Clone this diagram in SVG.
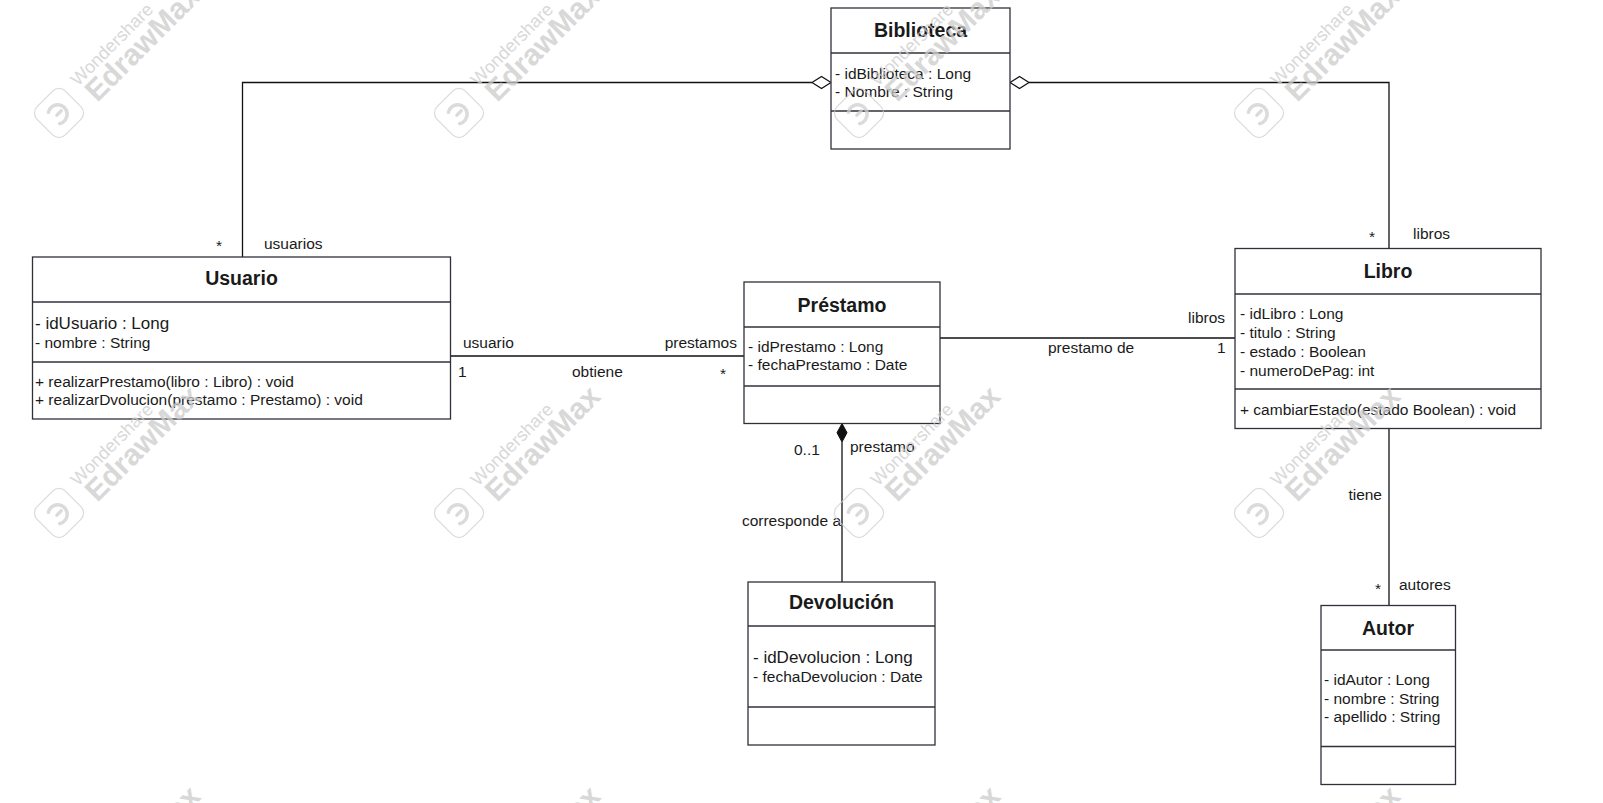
<svg xmlns="http://www.w3.org/2000/svg" xmlns:xlink="http://www.w3.org/1999/xlink" width="1603" height="803" viewBox="0 0 1603 803">
<style>
  text { font-family: "Liberation Sans", Arial, sans-serif; fill: #1a1a1a; }
  .box { fill: #ffffff; stroke: #30303a; stroke-width: 1.3; }
  .sep { stroke: #30303a; stroke-width: 1.3; }
  .title { font-size: 19.5px; font-weight: bold; text-anchor: middle; }
  .attr { font-size: 15.5px; }
  .big { font-size: 17px; }
  .lbl { font-size: 15.5px; }
  .end { text-anchor: end; }
  .mid { text-anchor: middle; }
  .conn { fill: none; stroke: #111111; stroke-width: 1.3; }
  .wmline { fill: none; stroke: #cfcfcf; }
  .wmt { fill: #cccccc; }
</style>
<defs>
  <g id="wm" opacity="0.75">
    <g transform="rotate(-45)">
      <rect class="wmline" x="-20" y="-20" width="40" height="40" rx="9" stroke-width="1.2"/>
      <path class="wmline" d="M -7 -8 A 9.5 9.5 0 1 1 -7 8" stroke-width="3.5" stroke-linecap="round"/>
      <path class="wmline" d="M -3 0 L 3 0" stroke-width="3.5" stroke-linecap="round"/>
      <text class="wmt" x="32" y="-5" font-size="18">Wondershare</text>
      <text class="wmt" x="34" y="20" font-size="30" font-weight="bold">EdrawMax</text>
    </g>
  </g>
</defs>
<rect x="0" y="0" width="1603" height="803" fill="#ffffff"/>

<g id="connectors">
  <polyline class="conn" points="812,82.5 242.5,82.5 242.5,257"/>
  <polygon points="831,82.5 821.5,76.5 812,82.5 821.5,88.5" fill="#ffffff" stroke="#111111" stroke-width="1.2"/>
  <polyline class="conn" points="1029,82.5 1389,82.5 1389,248.5"/>
  <polygon points="1010,82.5 1019.5,76.5 1029,82.5 1019.5,88.5" fill="#ffffff" stroke="#111111" stroke-width="1.2"/>
  <line class="conn" x1="450.5" y1="356" x2="744" y2="356"/>
  <line class="conn" x1="940" y1="338" x2="1235" y2="338"/>
  <line class="conn" x1="842" y1="442" x2="842" y2="582"/>
  <polygon points="842,423.5 847,432.7 842,442 837,432.7" fill="#111111" stroke="#111111" stroke-width="1"/>
  <line class="conn" x1="1389" y1="428.5" x2="1389" y2="605.5"/>

  <text class="lbl mid" x="219" y="251">*</text>
  <text class="lbl" x="264" y="249">usuarios</text>
  <text class="lbl mid" x="1372" y="242">*</text>
  <text class="lbl" x="1413" y="239">libros</text>
  <text class="lbl" x="463" y="348">usuario</text>
  <text class="lbl end" x="737" y="348">prestamos</text>
  <text class="lbl" x="458" y="377">1</text>
  <text class="lbl" x="572" y="377">obtiene</text>
  <text class="lbl mid" x="723" y="379">*</text>
  <text class="lbl" x="1188" y="323">libros</text>
  <text class="lbl" x="1217" y="353">1</text>
  <text class="lbl" x="1048" y="353">prestamo de</text>
  <text class="lbl" x="794" y="455">0..1</text>
  <text class="lbl" x="850" y="452">prestamo</text>
  <text class="lbl end" x="841" y="526">corresponde a</text>
  <text class="lbl end" x="1382" y="500">tiene</text>
  <text class="lbl mid" x="1378" y="594">*</text>
  <text class="lbl" x="1399" y="590">autores</text>
</g>

<g id="biblioteca">
  <rect class="box" x="831" y="8" width="179" height="141"/>
  <line class="sep" x1="831" y1="53" x2="1010" y2="53"/>
  <line class="sep" x1="831" y1="111" x2="1010" y2="111"/>
  <text class="title" x="920.5" y="37">Biblioteca</text>
  <text class="attr" x="835" y="79">- idBiblioteca : Long</text>
  <text class="attr" x="835" y="97">- Nombre : String</text>
</g>

<g id="usuario">
  <rect class="box" x="32.5" y="257" width="418" height="162"/>
  <line class="sep" x1="32.5" y1="302" x2="450.5" y2="302"/>
  <line class="sep" x1="32.5" y1="362" x2="450.5" y2="362"/>
  <text class="title" x="241.5" y="285">Usuario</text>
  <text class="big" x="35" y="329">- idUsuario : Long</text>
  <text class="attr" x="35" y="348">- nombre : String</text>
  <text class="attr" x="35" y="387">+ realizarPrestamo(libro : Libro) : void</text>
  <text class="attr" x="35" y="405">+ realizarDvolucion(prestamo : Prestamo) : void</text>
</g>

<g id="prestamo">
  <rect class="box" x="744" y="282" width="196" height="141.5"/>
  <line class="sep" x1="744" y1="327" x2="940" y2="327"/>
  <line class="sep" x1="744" y1="386" x2="940" y2="386"/>
  <text class="title" x="842" y="312">Préstamo</text>
  <text class="attr" x="748" y="352">- idPrestamo : Long</text>
  <text class="attr" x="748" y="370">- fechaPrestamo : Date</text>
</g>

<g id="libro">
  <rect class="box" x="1235" y="248.5" width="306" height="180"/>
  <line class="sep" x1="1235" y1="294" x2="1541" y2="294"/>
  <line class="sep" x1="1235" y1="389" x2="1541" y2="389"/>
  <text class="title" x="1388" y="278">Libro</text>
  <text class="attr" x="1240" y="319">- idLibro : Long</text>
  <text class="attr" x="1240" y="338">- titulo : String</text>
  <text class="attr" x="1240" y="357">- estado : Boolean</text>
  <text class="attr" x="1240" y="376">- numeroDePag: int</text>
  <text class="attr" x="1240" y="415">+ cambiarEstado(estado Boolean) : void</text>
</g>

<g id="devolucion">
  <rect class="box" x="748" y="582" width="187" height="163"/>
  <line class="sep" x1="748" y1="626" x2="935" y2="626"/>
  <line class="sep" x1="748" y1="707" x2="935" y2="707"/>
  <text class="title" x="841.5" y="609">Devolución</text>
  <text class="big" x="753" y="663">- idDevolucion : Long</text>
  <text class="attr" x="753" y="682">- fechaDevolucion : Date</text>
</g>

<g id="autor">
  <rect class="box" x="1321" y="605.5" width="134.5" height="179"/>
  <line class="sep" x1="1321" y1="650" x2="1455.5" y2="650"/>
  <line class="sep" x1="1321" y1="746.5" x2="1455.5" y2="746.5"/>
  <text class="title" x="1388" y="635">Autor</text>
  <text class="attr" x="1324" y="685">- idAutor : Long</text>
  <text class="attr" x="1324" y="703.5">- nombre : String</text>
  <text class="attr" x="1324" y="722">- apellido : String</text>
</g>

<g id="watermarks">
  <use xlink:href="#wm" x="59" y="113"/>
  <use xlink:href="#wm" x="459" y="113"/>
  <use xlink:href="#wm" x="859" y="113"/>
  <use xlink:href="#wm" x="1259" y="113"/>
  <use xlink:href="#wm" x="59" y="513"/>
  <use xlink:href="#wm" x="459" y="513"/>
  <use xlink:href="#wm" x="859" y="513"/>
  <use xlink:href="#wm" x="1259" y="513"/>
  <use xlink:href="#wm" x="59" y="913"/>
  <use xlink:href="#wm" x="459" y="913"/>
  <use xlink:href="#wm" x="859" y="913"/>
  <use xlink:href="#wm" x="1259" y="913"/>
</g>
</svg>
